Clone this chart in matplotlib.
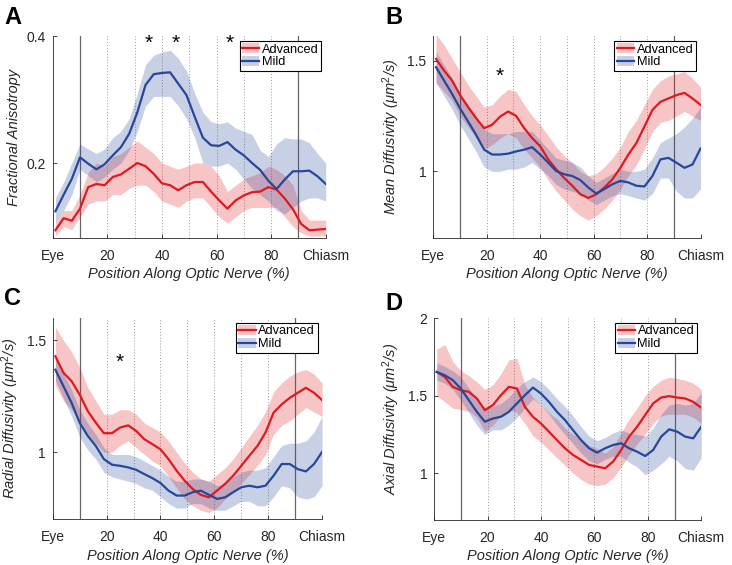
import matplotlib
matplotlib.use('Agg')
import matplotlib.pyplot as plt
from matplotlib.patches import Patch
from matplotlib.lines import Line2D

plt.rcParams['font.family'] = ['Liberation Sans', 'DejaVu Sans']
plt.rcParams['mathtext.fontset'] = 'custom'
plt.rcParams['mathtext.it'] = 'Liberation Sans:italic'
plt.rcParams['mathtext.rm'] = 'Liberation Sans'

# ----------------------------------------------------------------------
# Data: position along nerve (%) and group means / shaded band edges
# ----------------------------------------------------------------------
pos = [1, 4, 7, 10, 13, 16, 19, 22, 25, 28, 31, 34, 37, 40, 43, 46, 49,
       52, 55, 58, 61, 64, 67, 70, 73, 76, 79, 82, 85, 88, 91, 94, 97, 100]

# A: fractional anisotropy
fa_adv = [0.094, 0.113, 0.109, 0.128, 0.162, 0.167, 0.165, 0.178, 0.182, 0.191,
          0.200, 0.195, 0.183, 0.168, 0.165, 0.157, 0.165, 0.170, 0.170, 0.155,
          0.141, 0.128, 0.141, 0.149, 0.154, 0.155, 0.162, 0.158, 0.144, 0.127,
          0.104, 0.094, 0.095, 0.096]
fa_adv_hi = [0.105, 0.125, 0.125, 0.150, 0.185, 0.200, 0.195, 0.210, 0.215, 0.225,
             0.235, 0.225, 0.215, 0.200, 0.195, 0.190, 0.195, 0.200, 0.200, 0.195,
             0.180, 0.155, 0.165, 0.175, 0.180, 0.185, 0.195, 0.190, 0.180, 0.165,
             0.125, 0.110, 0.110, 0.110]
fa_adv_lo = [0.085, 0.100, 0.095, 0.115, 0.135, 0.140, 0.140, 0.150, 0.150, 0.160,
             0.165, 0.165, 0.155, 0.140, 0.135, 0.130, 0.140, 0.145, 0.145, 0.130,
             0.115, 0.105, 0.115, 0.125, 0.130, 0.130, 0.130, 0.130, 0.115, 0.100,
             0.090, 0.085, 0.085, 0.085]
fa_mild = [0.124, 0.150, 0.175, 0.209, 0.199, 0.190, 0.198, 0.212, 0.225, 0.246,
           0.280, 0.323, 0.340, 0.342, 0.343, 0.325, 0.307, 0.273, 0.240, 0.228,
           0.227, 0.233, 0.221, 0.212, 0.200, 0.189, 0.172, 0.159, 0.174, 0.187,
           0.187, 0.188, 0.179, 0.167]
fa_mild_hi = [0.145, 0.170, 0.200, 0.230, 0.222, 0.215, 0.222, 0.240, 0.250, 0.270,
              0.310, 0.355, 0.370, 0.375, 0.378, 0.365, 0.345, 0.310, 0.280, 0.265,
              0.262, 0.265, 0.255, 0.250, 0.245, 0.220, 0.210, 0.230, 0.240, 0.238,
              0.238, 0.232, 0.215, 0.200]
fa_mild_lo = [0.105, 0.125, 0.150, 0.190, 0.180, 0.170, 0.178, 0.190, 0.200, 0.220,
              0.250, 0.290, 0.305, 0.305, 0.305, 0.290, 0.270, 0.240, 0.200, 0.195,
              0.195, 0.200, 0.190, 0.175, 0.160, 0.150, 0.140, 0.125, 0.120, 0.130,
              0.140, 0.145, 0.145, 0.140]

# B: mean diffusivity
md_adv = [1.507, 1.455, 1.410, 1.344, 1.290, 1.240, 1.195, 1.210, 1.247, 1.270,
          1.250, 1.195, 1.150, 1.113, 1.054, 1.009, 0.970, 0.935, 0.897, 0.880,
          0.897, 0.927, 0.964, 1.016, 1.076, 1.128, 1.202, 1.277, 1.314, 1.329,
          1.344, 1.354, 1.329, 1.300]
md_adv_hi = [1.62, 1.57, 1.51, 1.45, 1.39, 1.34, 1.29, 1.30, 1.34, 1.37, 1.36, 1.30,
             1.25, 1.21, 1.16, 1.11, 1.07, 1.04, 1.00, 0.98, 0.99, 1.02, 1.06, 1.11,
             1.18, 1.23, 1.30, 1.37, 1.41, 1.43, 1.44, 1.45, 1.42, 1.38]
md_adv_lo = [1.40, 1.36, 1.32, 1.25, 1.20, 1.15, 1.10, 1.12, 1.15, 1.17, 1.15, 1.10,
             1.06, 1.02, 0.96, 0.91, 0.87, 0.83, 0.80, 0.78, 0.80, 0.83, 0.87, 0.92,
             0.98, 1.03, 1.10, 1.18, 1.22, 1.23, 1.25, 1.27, 1.25, 1.23]
md_mild = [1.470, 1.410, 1.350, 1.284, 1.225, 1.165, 1.098, 1.076, 1.076, 1.080,
           1.090, 1.098, 1.109, 1.076, 1.039, 1.001, 0.987, 0.979, 0.961, 0.927,
           0.900, 0.920, 0.942, 0.957, 0.950, 0.935, 0.932, 0.979, 1.054, 1.061,
           1.039, 1.016, 1.031, 1.103]
md_mild_hi = [1.54, 1.48, 1.42, 1.35, 1.30, 1.25, 1.19, 1.17, 1.17, 1.17, 1.18, 1.18,
              1.18, 1.14, 1.10, 1.06, 1.05, 1.04, 1.02, 0.98, 0.95, 0.97, 0.99, 1.01,
              1.00, 1.00, 1.01, 1.06, 1.13, 1.15, 1.17, 1.20, 1.24, 1.29]
md_mild_lo = [1.40, 1.34, 1.28, 1.21, 1.15, 1.09, 1.02, 1.00, 1.00, 1.01, 1.01, 1.02,
              1.04, 1.01, 0.98, 0.94, 0.92, 0.91, 0.90, 0.87, 0.85, 0.87, 0.89, 0.90,
              0.89, 0.88, 0.87, 0.90, 0.97, 0.97, 0.91, 0.88, 0.88, 0.92]

# C: radial diffusivity
rd_adv = [1.429, 1.355, 1.318, 1.258, 1.184, 1.132, 1.085, 1.085, 1.110, 1.120,
          1.095, 1.058, 1.036, 1.013, 0.969, 0.917, 0.872, 0.835, 0.809, 0.798,
          0.828, 0.858, 0.895, 0.939, 0.984, 1.028, 1.088, 1.177, 1.214, 1.243,
          1.266, 1.288, 1.266, 1.233]
rd_adv_hi = [1.56, 1.50, 1.45, 1.38, 1.29, 1.23, 1.17, 1.17, 1.19, 1.19, 1.17, 1.13,
             1.11, 1.09, 1.05, 1.00, 0.95, 0.91, 0.88, 0.87, 0.90, 0.93, 0.97, 1.02,
             1.07, 1.12, 1.18, 1.27, 1.31, 1.34, 1.36, 1.37, 1.35, 1.31]
rd_adv_lo = [1.30, 1.23, 1.19, 1.14, 1.08, 1.04, 1.00, 1.00, 1.03, 1.05, 1.02, 0.99,
             0.96, 0.94, 0.89, 0.84, 0.79, 0.76, 0.74, 0.73, 0.75, 0.79, 0.82, 0.86,
             0.90, 0.94, 0.99, 1.08, 1.12, 1.14, 1.17, 1.20, 1.18, 1.16]
rd_mild = [1.369, 1.295, 1.221, 1.132, 1.073, 1.028, 0.969, 0.944, 0.939, 0.932,
           0.921, 0.902, 0.884, 0.862, 0.828, 0.806, 0.806, 0.821, 0.828, 0.809,
           0.791, 0.798, 0.821, 0.843, 0.850, 0.843, 0.850, 0.895, 0.947, 0.947,
           0.924, 0.914, 0.947, 1.001]
rd_mild_hi = [1.42, 1.35, 1.28, 1.19, 1.13, 1.08, 1.02, 0.99, 0.99, 0.99, 0.98, 0.96,
              0.94, 0.92, 0.89, 0.87, 0.87, 0.88, 0.88, 0.87, 0.85, 0.86, 0.89, 0.91,
              0.92, 0.92, 0.93, 0.98, 1.03, 1.04, 1.04, 1.05, 1.09, 1.16]
rd_mild_lo = [1.32, 1.24, 1.16, 1.07, 1.01, 0.97, 0.91, 0.89, 0.88, 0.87, 0.86, 0.84,
              0.83, 0.80, 0.77, 0.75, 0.75, 0.77, 0.77, 0.75, 0.74, 0.74, 0.76, 0.78,
              0.78, 0.76, 0.76, 0.80, 0.85, 0.84, 0.80, 0.79, 0.80, 0.85]

# D: axial diffusivity
ad_adv = [1.653, 1.621, 1.557, 1.535, 1.525, 1.482, 1.407, 1.439, 1.503, 1.557,
          1.546, 1.428, 1.364, 1.321, 1.268, 1.214, 1.161, 1.118, 1.086, 1.054,
          1.043, 1.032, 1.075, 1.150, 1.236, 1.300, 1.375, 1.450, 1.488, 1.497,
          1.488, 1.482, 1.460, 1.422]
ad_adv_hi = [1.80, 1.83, 1.72, 1.66, 1.63, 1.59, 1.54, 1.57, 1.64, 1.73, 1.74, 1.57,
             1.49, 1.44, 1.39, 1.35, 1.29, 1.25, 1.22, 1.18, 1.16, 1.13, 1.17, 1.26,
             1.35, 1.42, 1.50, 1.56, 1.60, 1.62, 1.61, 1.60, 1.58, 1.54]
ad_adv_lo = [1.50, 1.46, 1.42, 1.41, 1.40, 1.36, 1.27, 1.31, 1.37, 1.41, 1.39, 1.32,
             1.24, 1.20, 1.15, 1.10, 1.05, 1.00, 0.96, 0.93, 0.92, 0.93, 0.97, 1.04,
             1.12, 1.19, 1.25, 1.32, 1.37, 1.38, 1.38, 1.38, 1.36, 1.32]
ad_mild = [1.653, 1.632, 1.600, 1.546, 1.471, 1.396, 1.332, 1.353, 1.364, 1.396,
           1.450, 1.503, 1.552, 1.514, 1.460, 1.396, 1.343, 1.278, 1.214, 1.161,
           1.133, 1.161, 1.182, 1.193, 1.161, 1.139, 1.111, 1.150, 1.236, 1.283,
           1.268, 1.236, 1.225, 1.300]
ad_mild_hi = [1.71, 1.69, 1.66, 1.62, 1.55, 1.48, 1.42, 1.43, 1.45, 1.49, 1.55, 1.59,
              1.62, 1.59, 1.54, 1.48, 1.43, 1.37, 1.30, 1.24, 1.21, 1.23, 1.26, 1.28,
              1.26, 1.25, 1.24, 1.29, 1.38, 1.44, 1.45, 1.44, 1.45, 1.52]
ad_mild_lo = [1.60, 1.58, 1.54, 1.47, 1.39, 1.31, 1.25, 1.28, 1.28, 1.31, 1.36, 1.42,
              1.48, 1.44, 1.38, 1.31, 1.25, 1.19, 1.13, 1.08, 1.06, 1.09, 1.11, 1.11,
              1.07, 1.04, 0.99, 1.02, 1.06, 1.11, 1.08, 1.03, 1.02, 1.10]

# significance markers (x position, y position)
star_x = {'A': [35, 45, 65], 'B': [25], 'C': [25], 'D': []}
star_y = {'A': 0.389, 'B': 1.43, 'C': 1.40, 'D': 0}

ylims = {'A': (0.082, 0.4), 'B': (0.7, 1.61), 'C': (0.7, 1.6), 'D': (0.7, 2.0)}
yticks = {'A': [0.2, 0.4], 'B': [1, 1.5], 'C': [1, 1.5], 'D': [1, 1.5, 2]}
ylabels = {'A': 'Fractional Anisotropy',
           'B': r'Mean Diffusivity ($\mu m^2$/s)',
           'C': r'Radial Diffusivity ($\mu m^2$/s)',
           'D': r'Axial Diffusivity ($\mu m^2$/s)'}
ytick_labels = {'A': ['0.2', '0.4'], 'B': ['1', '1.5'], 'C': ['1', '1.5'],
                'D': ['1', '1.5', '2']}

xticks = [0, 20, 40, 60, 80, 100]
xtick_labels = ['Eye', '20', '40', '60', '80', 'Chiasm']

RED = '#e0191f'
BLUE = '#26479a'
INK = '#262626'

panels = {
    'A': (fa_adv, fa_adv_lo, fa_adv_hi, fa_mild, fa_mild_lo, fa_mild_hi),
    'B': (md_adv, md_adv_lo, md_adv_hi, md_mild, md_mild_lo, md_mild_hi),
    'C': (rd_adv, rd_adv_lo, rd_adv_hi, rd_mild, rd_mild_lo, rd_mild_hi),
    'D': (ad_adv, ad_adv_lo, ad_adv_hi, ad_mild, ad_mild_lo, ad_mild_hi),
}
rects = {
    'A': [0.072, 0.579, 0.373, 0.357],
    'B': [0.592, 0.579, 0.365, 0.357],
    'C': [0.072, 0.081, 0.368, 0.356],
    'D': [0.593, 0.080, 0.365, 0.357],
}
letter_pos = {'A': (0.006, 0.99), 'B': (0.527, 0.99), 'C': (0.006, 0.492),
              'D': (0.527, 0.484)}

fig = plt.figure(figsize=(7.32, 5.65), dpi=100)

for key, (adv, adv_lo, adv_hi, mild, mild_lo, mild_hi) in panels.items():
    ax = fig.add_axes(rects[key])
    ax.fill_between(pos, adv_lo, adv_hi, color=RED, alpha=0.25, lw=0)
    ax.fill_between(pos, mild_lo, mild_hi, color=BLUE, alpha=0.25, lw=0)
    ax.plot(pos, adv, color=RED, lw=1.6)
    ax.plot(pos, mild, color=BLUE, lw=1.6)

    for xv in [10, 90]:
        ax.axvline(xv, color='#666666', lw=0.9, zorder=0)
    for xv in range(20, 90, 10):
        ax.axvline(xv, color='#999999', lw=0.7, ls=(0, (1, 2)), zorder=0)

    for sx in star_x[key]:
        ax.text(sx, star_y[key], '*', ha='center', va='center',
                fontsize=15, color='black')

    ax.set_xlim(0, 100)
    ax.set_ylim(*ylims[key])
    ax.set_xticks(xticks)
    ax.set_xticklabels(xtick_labels)
    ax.set_yticks(yticks[key])
    ax.set_yticklabels(ytick_labels[key])
    ax.tick_params(direction='in', length=3, labelsize=10, colors=INK,
                   width=0.6)
    ax.tick_params(axis='x', pad=8)
    ax.tick_params(axis='y', pad=5)
    ax.spines['top'].set_visible(False)
    ax.spines['right'].set_visible(False)
    for sp in ['left', 'bottom']:
        ax.spines[sp].set_color(INK)
        ax.spines[sp].set_linewidth(0.6)

    ax.set_xlabel('Position Along Optic Nerve (%)', fontsize=10.5,
                  style='italic', color=INK, labelpad=3)
    ax.set_ylabel(ylabels[key], fontsize=10.5, style='italic', color=INK,
                  labelpad=4)

    h_adv = (Patch(facecolor=RED, alpha=0.25, lw=0), Line2D([], [], color=RED, lw=1.6))
    h_mild = (Patch(facecolor=BLUE, alpha=0.25, lw=0), Line2D([], [], color=BLUE, lw=1.6))
    leg = ax.legend([h_adv, h_mild], ['Advanced', 'Mild'], loc='upper right',
                    fontsize=9.2, fancybox=False, framealpha=1, edgecolor='black',
                    handlelength=1.35, handleheight=0.8, handletextpad=0.2,
                    borderpad=0.2, labelspacing=0.05, borderaxespad=0.35)
    leg.get_frame().set_linewidth(0.8)

    fig.text(*letter_pos[key], key, fontsize=17, fontweight='bold',
             ha='left', va='top')

plt.savefig('out.png', dpi=100)
print("Saved: out.png")
